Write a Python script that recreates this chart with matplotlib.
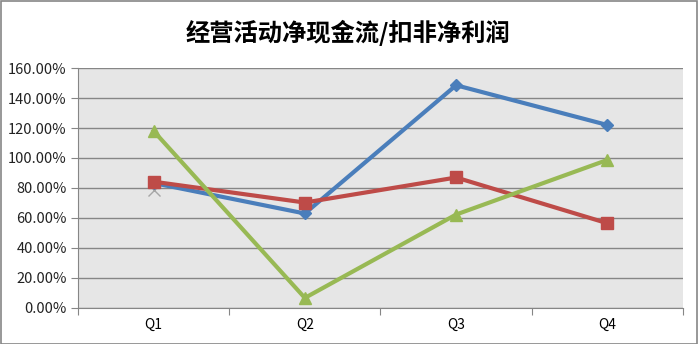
import numpy as np
import matplotlib
matplotlib.use("Agg")
import matplotlib.pyplot as plt
from matplotlib.patches import Rectangle

plt.rcParams['font.family'] = ['Noto Sans CJK SC', 'DejaVu Sans']

quarters = ["Q1", "Q2", "Q3", "Q4"]
blue_vals = [83.3, 63.0, 148.5, 122.0]
red_vals = [84.2, 70.3, 87.0, 56.5]
green_vals = [118.0, 6.7, 62.3, 98.7]
gray_vals = [78.5]

fig = plt.figure(figsize=(6.98, 3.44), dpi=100)
ax = fig.add_axes([0.1117, 0.1047, 0.8668, 0.6976])
ax.set_facecolor("#e6e6e6")

x = np.arange(len(quarters))
ax.plot(x, blue_vals, color="#4a7ebb", lw=3, marker="D", ms=6, zorder=3)
ax.plot(x, red_vals, color="#be4b48", lw=3, marker="s", ms=8, zorder=4)
ax.plot(x, green_vals, color="#98b954", lw=3, marker="^", ms=9, zorder=5)
ax.plot(x[:1], gray_vals, color="#a6a6a6", lw=0, marker="x", ms=8, mew=1, zorder=2)

ax.set_ylim(0, 160)
ax.set_yticks(np.arange(0, 161, 20))
ax.set_yticklabels(["%.2f%%" % v for v in np.arange(0, 161, 20)])
ax.set_xlim(-0.5, 3.5)
ax.set_xticks(np.arange(-0.5, 4, 1))
ax.set_xticklabels([])
ax.set_xticks(x, minor=True)
ax.set_xticklabels(quarters, minor=True)
ax.tick_params(axis="x", which="minor", length=0, pad=7)
ax.tick_params(axis="x", which="major", length=5, color="#868686")
ax.tick_params(axis="y", length=5, color="#868686", pad=3)
ax.tick_params(labelsize=10.5, labelcolor="#222222")
ax.yaxis.grid(True, color="#868686", lw=1)
ax.set_axisbelow(True)
for side in ["top", "right"]:
    ax.spines[side].set_visible(False)
for side in ["left", "bottom"]:
    ax.spines[side].set_color("#868686")

fig.text(0.499, 0.905, "经营活动净现金流/扣非净利润", ha="center", va="center",
         fontsize=17.5, fontweight="heavy")

fig.patches.append(Rectangle((0.001, 0.001), 0.997, 0.997, transform=fig.transFigure,
                             fill=False, edgecolor="#868686", lw=1.2))

fig.savefig("out.png", dpi=100)
